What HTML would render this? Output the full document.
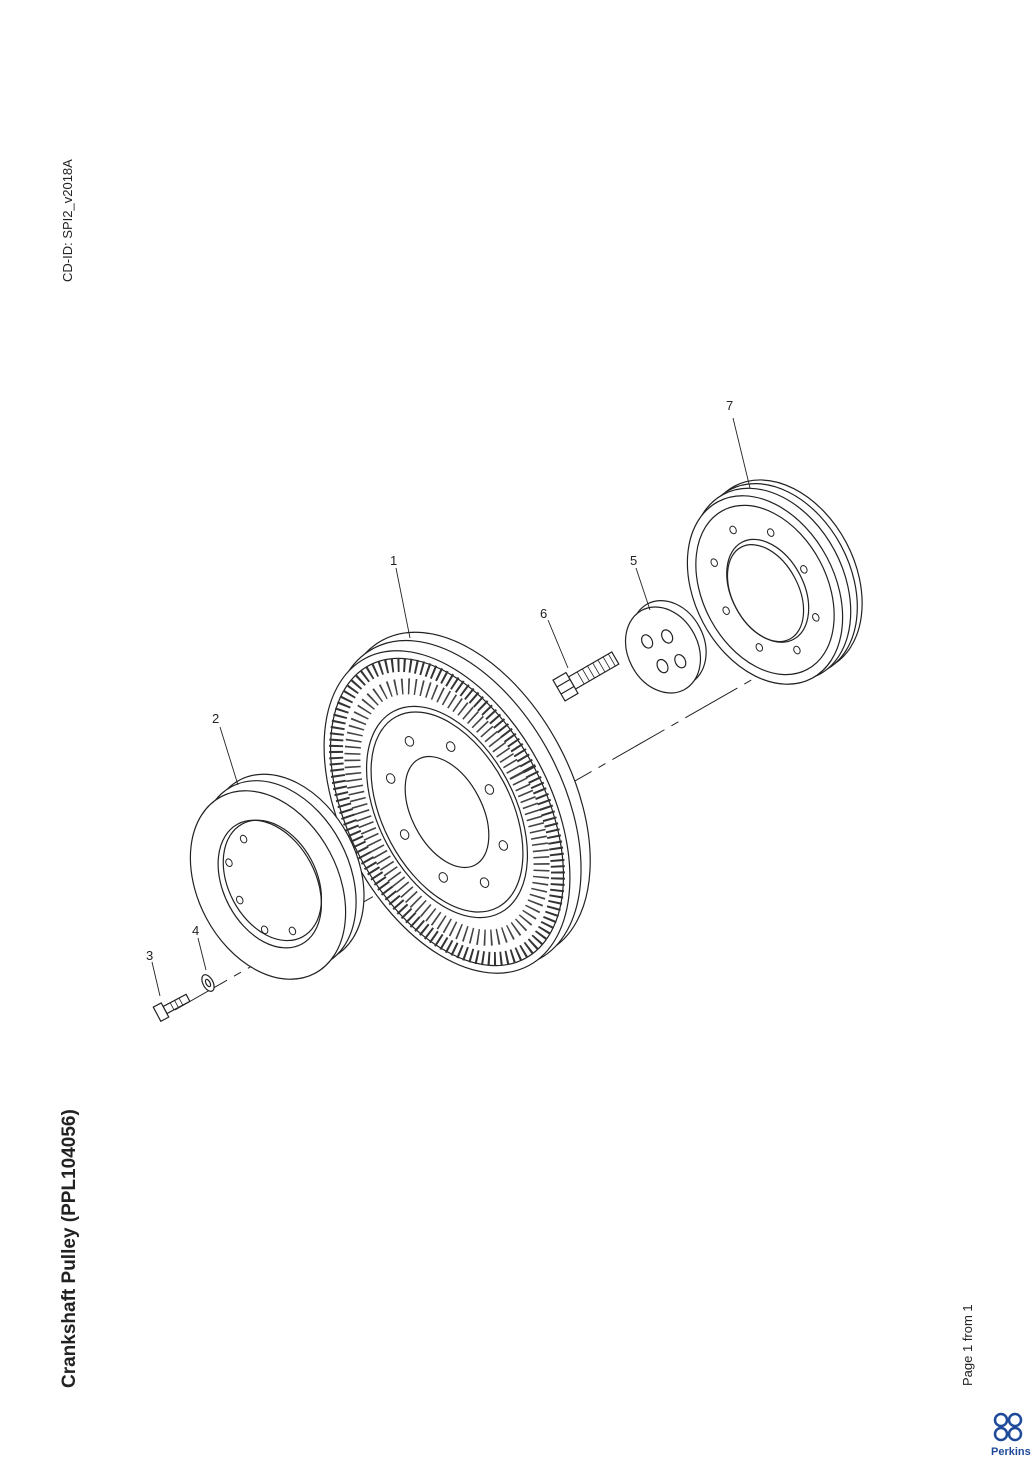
<!DOCTYPE html>
<html><head><meta charset="utf-8"><style>
html,body{margin:0;padding:0;background:#fff;}
body{width:1033px;height:1461px;position:relative;overflow:hidden;font-family:"Liberation Sans",sans-serif;}
.v{position:absolute;transform-origin:0 0;transform:rotate(-90deg);white-space:nowrap;color:#222;}
</style></head><body>
<div class="v" style="left:60px;top:282px;font-size:13px;">CD-ID: SPI2_v2018A</div>
<div class="v" style="left:59px;top:1388px;font-size:19px;font-weight:bold;">Crankshaft Pulley (PPL104056)</div>
<div class="v" style="left:960px;top:1386px;font-size:13px;">Page 1 from 1</div>
<svg width="1033" height="1461" style="position:absolute;left:0;top:0" fill="none" stroke="#222" stroke-width="1.2" font-family="Liberation Sans,sans-serif">
<path d="M175 1010 L795 655" stroke-dasharray="60 8 8 8" stroke-width="1"/>
<g transform="translate(765,590) rotate(-28)">
<ellipse cx="22" cy="-4" rx="72" ry="102" fill="#fff"/>
<ellipse cx="16" cy="-3" rx="72" ry="102" fill="#fff"/>
<ellipse cx="8" cy="-2" rx="72" ry="102" fill="#fff"/>
<ellipse cx="0" cy="0" rx="70" ry="100" fill="#fff"/>
<ellipse cx="0" cy="0" rx="62" ry="90"/>
<ellipse cx="2" cy="2" rx="36" ry="55"/>
<ellipse cx="-1" cy="3" rx="33" ry="52"/>
<g stroke-width="1"><ellipse cx="-44" cy="0" rx="3" ry="4"/><ellipse cx="44" cy="0" rx="3" ry="4"/><ellipse cx="0" cy="-68" rx="3" ry="4"/><ellipse cx="0" cy="68" rx="3" ry="4"/><ellipse cx="-32" cy="-48" rx="3" ry="4"/><ellipse cx="32" cy="48" rx="3" ry="4"/><ellipse cx="32" cy="-48" rx="3" ry="4"/><ellipse cx="-32" cy="48" rx="3" ry="4"/></g>
</g>
<g transform="translate(663,650) rotate(-28)">
<ellipse cx="8" cy="-3" rx="35" ry="45" fill="#fff"/>
<ellipse cx="0" cy="0" rx="35" ry="45" fill="#fff"/>
<ellipse cx="-10" cy="-15" rx="5" ry="7"/><ellipse cx="10" cy="-10" rx="5" ry="7"/><ellipse cx="-8" cy="14" rx="5" ry="7"/><ellipse cx="10" cy="18" rx="5" ry="7"/>
</g>
<g transform="translate(572,683) rotate(-30)">
<rect x="0" y="-7" width="50" height="14" fill="#fff"/>
<path d="M10 -7v14M16 -7v14M22 -7v14M28 -7v14M34 -7v14M40 -7v14M46 -7v14" stroke-width="0.8"/>
<rect x="-15" y="-12" width="15" height="24" fill="#fff"/>
<path d="M-15 -4h15M-15 4h15"/>
</g>
<g transform="translate(447,812) rotate(-28)">
<ellipse cx="24" cy="-6" rx="106" ry="176" fill="#fff"/>
<ellipse cx="12" cy="-3" rx="106" ry="176" fill="#fff"/>
<ellipse cx="0" cy="0" rx="104" ry="174" fill="#fff"/>
<ellipse cx="0" cy="0" rx="98" ry="166"/>
<ellipse cx="0" cy="0" rx="93" ry="159" stroke-width="14" stroke-dasharray="2 4" stroke="#333"/>
<ellipse cx="0" cy="0" rx="79" ry="136" stroke-width="16" stroke-dasharray="1.6 5" stroke="#444"/>
<ellipse cx="0" cy="0" rx="68" ry="114"/>
<ellipse cx="0" cy="0" rx="64" ry="108"/>
<ellipse cx="0" cy="0" rx="35" ry="60"/>
<g stroke-width="1"><ellipse cx="-48" cy="0" rx="4" ry="5"/><ellipse cx="48" cy="0" rx="4" ry="5"/><ellipse cx="0" cy="-80" rx="4" ry="5"/><ellipse cx="0" cy="80" rx="4" ry="5"/><ellipse cx="-34" cy="-56" rx="4" ry="5"/><ellipse cx="34" cy="56" rx="4" ry="5"/><ellipse cx="34" cy="-56" rx="4" ry="5"/><ellipse cx="-34" cy="56" rx="4" ry="5"/></g>
</g>
<g transform="translate(268,885) rotate(-28)">
<ellipse cx="24" cy="-6" rx="70" ry="100" fill="#fff"/>
<ellipse cx="14" cy="-4" rx="70" ry="100" fill="#fff"/>
<ellipse cx="0" cy="0" rx="70" ry="100" fill="#fff"/>
<ellipse cx="2" cy="0" rx="46" ry="68"/>
<ellipse cx="6" cy="-2" rx="44" ry="64"/>
<g stroke-width="1"><ellipse cx="-32" cy="0" rx="3" ry="4"/><ellipse cx="0" cy="-52" rx="3" ry="4"/><ellipse cx="0" cy="52" rx="3" ry="4"/><ellipse cx="-24" cy="-38" rx="3" ry="4"/><ellipse cx="-24" cy="38" rx="3" ry="4"/></g>
</g>
<ellipse cx="208" cy="983" rx="5" ry="9" transform="rotate(-28 208 983)" fill="#fff"/>
<ellipse cx="208" cy="983" rx="2" ry="4" transform="rotate(-28 208 983)"/>
<g transform="translate(165,1010) rotate(-28)">
<rect x="0" y="-4" width="26" height="8" fill="#fff"/>
<path d="M8 -4v8M13 -4v8M18 -4v8" stroke-width="0.8"/>
<rect x="-9" y="-8" width="9" height="16" fill="#fff"/>
</g>
<g stroke-width="0.9">
<path d="M396 568 L410 638"/><path d="M636 568 L650 610"/><path d="M548 620 L568 668"/>
<path d="M733 418 L750 488"/><path d="M220 727 L238 785"/><path d="M198 938 L206 970"/><path d="M152 962 L160 996"/>
</g>
<g fill="#222" stroke="none" font-size="13">
<text x="390" y="565">1</text><text x="212" y="723">2</text><text x="146" y="960">3</text><text x="192" y="935">4</text>
<text x="630" y="565">5</text><text x="540" y="618">6</text><text x="726" y="410">7</text>
</g>
<g transform="translate(1008,1428)" stroke="#1f4a9a" stroke-width="2.5">
<circle cx="-7" cy="-8" r="6"/><circle cx="7" cy="-8" r="6"/><circle cx="-7" cy="6" r="6"/><circle cx="7" cy="6" r="6"/>
</g>
<text x="991" y="1455" fill="#1f4a9a" stroke="none" font-size="11" font-weight="bold">Perkins</text>
</svg>
</body></html>
